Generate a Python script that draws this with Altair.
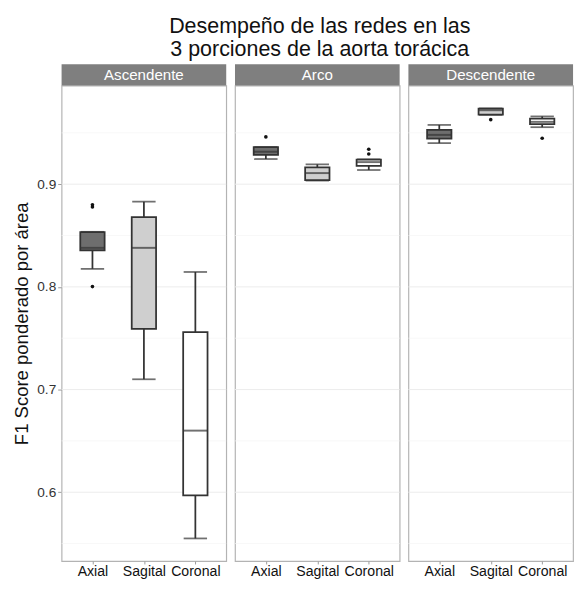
import altair as alt
import pandas as pd

regions = ["Ascendente", "Arco", "Descendente"]
methods = ["Axial", "Sagital", "Coronal"]
fills = ["#6e6e6e", "#cfcfcf", "#ffffff"]

# box statistics, order: region x method
box_region = ["Ascendente"] * 3 + ["Arco"] * 3 + ["Descendente"] * 3
box_method = methods * 3
whisker_low = [0.8175, 0.710, 0.555, 0.9245, 0.9035, 0.9138, 0.9400, 0.9675, 0.9555]
q1 = [0.8356, 0.759, 0.597, 0.9285, 0.9040, 0.9178, 0.9444, 0.9678, 0.9586]
median = [0.8380, 0.838, 0.660, 0.9316, 0.9108, 0.9215, 0.9480, 0.9720, 0.9607]
q3 = [0.8534, 0.868, 0.756, 0.9360, 0.9163, 0.9240, 0.9530, 0.9736, 0.9638]
whisker_high = [0.8536, 0.883, 0.8145, 0.9362, 0.9193, 0.9242, 0.9577, 0.9738, 0.9660]

outlier_region = ["Ascendente", "Ascendente", "Ascendente", "Arco", "Arco", "Arco",
                  "Descendente", "Descendente"]
outlier_method = ["Axial", "Axial", "Axial", "Axial", "Coronal", "Coronal",
                  "Sagital", "Coronal"]
outlier_value = [0.8800, 0.8778, 0.8003, 0.9460, 0.9340, 0.9294, 0.9628, 0.9447]

major_grid = [0.6, 0.7, 0.8, 0.9]
minor_grid = [0.55, 0.65, 0.75, 0.85, 0.95]
y_domain = [0.533, 0.996]

box_df = pd.DataFrame({"region": box_region, "method": box_method, "lo": whisker_low,
                       "q1": q1, "med": median, "q3": q3, "hi": whisker_high})
out_df = pd.DataFrame({"region": outlier_region, "method": outlier_method, "value": outlier_value})

W = 169
H = 488
BOX = 25
FONT = "Liberation Sans"
LINE = "#333333"
LW = 1.8

yscale = alt.Scale(domain=y_domain, nice=False, zero=False)
xscale = alt.Scale(type="point", domain=methods, padding=0.6)
fillscale = alt.Scale(domain=methods, range=fills)


def panel(region, first):
    b = box_df[box_df.region == region].reset_index(drop=True)
    o = out_df[out_df.region == region].reset_index(drop=True)
    if first:
        yaxis = alt.Axis(values=major_grid, format=".1f", grid=False, domain=False,
                         tickColor="#9a9a9a", tickSize=4, labelFontSize=14,
                         labelColor="#333333", labelFont=FONT, labelPadding=2,
                         title="F1 Score ponderado por área", titleFontSize=19,
                         titleFont=FONT, titleFontWeight="normal", titleColor="#111111",
                         titlePadding=5)
    else:
        yaxis = None
    xaxis = alt.Axis(title=None, labelAngle=0, domain=False, grid=False, tickColor="#9a9a9a",
                     tickSize=3, labelFontSize=14.5, labelColor="#111111", labelFont=FONT,
                     labelPadding=1)

    def Y(field):
        return alt.Y(field, scale=yscale, axis=yaxis)

    def X():
        return alt.X("method:N", scale=xscale, axis=xaxis, sort=methods)

    grid_major = alt.Chart(pd.DataFrame({"g": major_grid})).mark_rule(
        color="#ebebeb", strokeWidth=1).encode(y=Y("g:Q"))
    grid_minor = alt.Chart(pd.DataFrame({"g": minor_grid})).mark_rule(
        color="#f4f4f4", strokeWidth=0.7).encode(y=Y("g:Q"))

    base = alt.Chart(b).encode(x=X())
    w_low = base.mark_rule(color=LINE, strokeWidth=LW).encode(y=Y("lo:Q"), y2="q1:Q")
    w_high = base.mark_rule(color=LINE, strokeWidth=LW).encode(y=Y("q3:Q"), y2="hi:Q")
    cap_low = base.mark_tick(color=LINE, thickness=LW, size=BOX - 1).encode(y=Y("lo:Q"))
    cap_high = base.mark_tick(color=LINE, thickness=LW, size=BOX - 1).encode(y=Y("hi:Q"))
    box = base.mark_bar(size=BOX, stroke=LINE, strokeWidth=LW).encode(
        y=Y("q1:Q"), y2="q3:Q",
        fill=alt.Fill("method:N", scale=fillscale, legend=None))
    med = base.mark_tick(color=LINE, thickness=2, size=BOX).encode(y=Y("med:Q"))
    pts = alt.Chart(o).mark_circle(color="#111111", size=14, opacity=1).encode(
        x=X(), y=Y("value:Q"))

    strip_df = pd.DataFrame({"label": [region]})
    strip = alt.Chart(strip_df).mark_rect(color="#7f7f7f").encode(
        x=alt.value(0), x2=alt.value(W), y=alt.value(-22), y2=alt.value(0),
        detail="label:N")
    strip_text = alt.Chart(strip_df).mark_text(
        color="#ffffff", fontSize=15.5, font=FONT, baseline="middle", align="center").encode(
        text="label:N", x=alt.value(W / 2), y=alt.value(-10.5))

    return alt.layer(grid_minor, grid_major, w_low, w_high, cap_low, cap_high, box, med,
                     pts, strip, strip_text).properties(width=W, height=H)


chart = alt.hconcat(*[panel(r, i == 0) for i, r in enumerate(regions)], spacing=5).properties(
    title=alt.TitleParams(["Desempeño de las redes en las", "3 porciones de la aorta torácica"],
                          fontSize=22, font=FONT, fontWeight="normal", color="#111111",
                          anchor="middle", lineHeight=23, offset=3, dx=27),
    padding={"left": 4, "right": 0, "top": 0, "bottom": 0},
).configure_view(stroke="#b3b3b3", strokeWidth=1.2)

chart.save("out.html", embed_options={"renderer": "svg", "actions": False})
